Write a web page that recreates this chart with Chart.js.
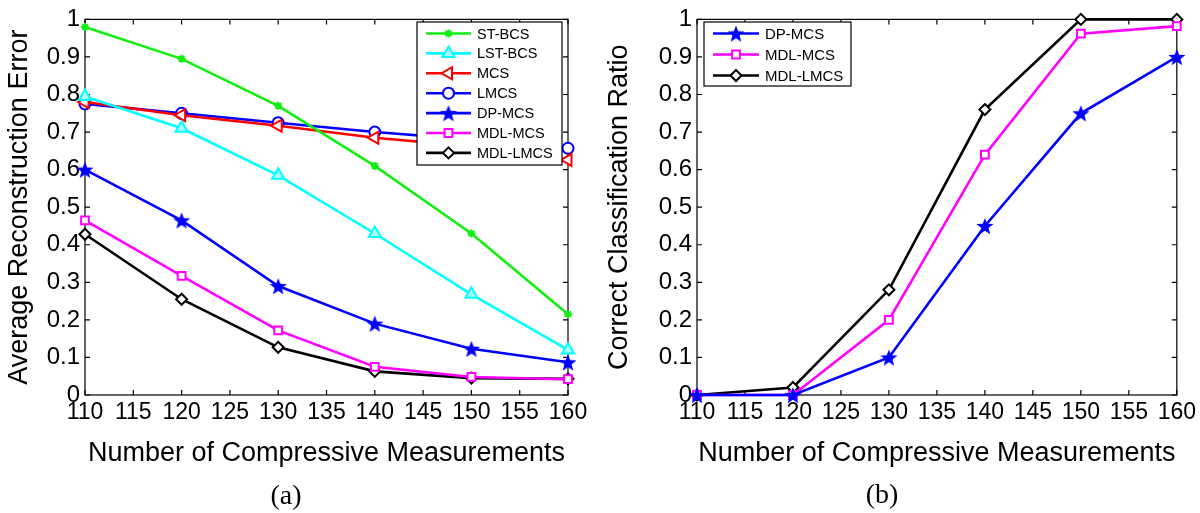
<!DOCTYPE html>
<html><head><meta charset="utf-8">
<script src="https://cdn.jsdelivr.net/npm/chart.js@4.4.0/dist/chart.umd.min.js"></script>
<style>
html,body{margin:0;padding:0;background:#fff;}
#wrap{position:relative;width:1200px;height:513px;overflow:hidden;background:#fff;}
.pane{position:absolute;top:0;width:600px;height:513px;}
.cap{position:absolute;font-family:"Liberation Serif","Times New Roman",serif;font-size:28px;color:#000;transform:translate(-50%,-50%);white-space:nowrap;}
</style></head><body>
<div id="wrap">
<div class="pane" style="left:0"><canvas id="c1" width="600" height="513"></canvas></div>
<div class="pane" style="left:600px"><canvas id="c2" width="600" height="513"></canvas></div>
<div class="cap" style="left:286px;top:495px">(a)</div>
<div class="cap" style="left:882px;top:494px">(b)</div>
</div>
<script>
// ---- data ----
const measurements = [110, 120, 130, 140, 150, 160];
const stBcs    = [0.980, 0.895, 0.770, 0.610, 0.430, 0.215];
const lstBcs   = [0.795, 0.710, 0.585, 0.430, 0.268, 0.120];
const mcs      = [0.780, 0.745, 0.717, 0.685, 0.662, 0.626];
const lmcs     = [0.775, 0.750, 0.725, 0.700, 0.680, 0.657];
const dpMcsErr = [0.600, 0.465, 0.290, 0.190, 0.123, 0.087];
const mdlMcsErr  = [0.465, 0.317, 0.172, 0.075, 0.048, 0.042];
const mdlLmcsErr = [0.428, 0.255, 0.127, 0.063, 0.045, 0.043];

const dpMcsRatio   = [0, 0, 0.10, 0.45, 0.75, 0.90];
const mdlMcsRatio  = [0, 0, 0.20, 0.64, 0.962, 0.982];
const mdlLmcsRatio = [0, 0.02, 0.28, 0.76, 1.0, 1.0];

const leftTitle = 'Average Reconstruction Error';
const rightTitle = 'Correct Classification Ratio';
const xTitle = 'Number of Compressive Measurements';

// ---- helpers ----
const FONT = '"Liberation Sans", Arial, Helvetica, sans-serif';
function pts(ys){ return measurements.map((x,i)=>({x:x, y:ys[i]})); }

function makeStar(color, size){
  const c = document.createElement('canvas');
  c.width = size; c.height = size;
  const g = c.getContext('2d');
  const cx = size/2, cy = size/2 + size*0.05, R = size/2, r = R*0.42;
  g.beginPath();
  for (let i=0;i<10;i++){
    const a = -Math.PI/2 + i*Math.PI/5;
    const rr = i%2===0 ? R : r;
    g.lineTo(cx + rr*Math.cos(a), cy + rr*Math.sin(a));
  }
  g.closePath();
  g.fillStyle = color; g.fill();
  return c;
}
const starImg = makeStar('#0000ff', 18);

const styles = {
  'ST-BCS':   {color:'#11ee11', pointStyle:'star', radius:4, rotation:0, fill:'#11ee11', bw:2},
  'LST-BCS':  {color:'#00ffff', pointStyle:'triangle', radius:7, rotation:0, fill:'#aaffff', bw:2},
  'MCS':      {color:'#ff0000', pointStyle:'triangle', radius:7, rotation:-90, fill:'#ffffff', bw:2},
  'LMCS':     {color:'#0000ff', pointStyle:'circle', radius:5.5, rotation:0, fill:'#ffffff', bw:2},
  'DP-MCS':   {color:'#0000ff', pointStyle:starImg, radius:8, rotation:0, fill:'#0000ff', bw:0},
  'MDL-MCS':  {color:'#ff00ff', pointStyle:'rect', radius:5.5, rotation:0, fill:'#ffffff', bw:2},
  'MDL-LMCS': {color:'#000000', pointStyle:'rectRot', radius:5.5, rotation:0, fill:'#ffffff', bw:2}
};

function ds(label, ys){
  const s = styles[label];
  return {
    label: label, data: pts(ys),
    borderColor: s.color, backgroundColor: s.fill, borderWidth: 2.6,
    pointStyle: s.pointStyle, pointRadius: s.radius, pointRotation: s.rotation,
    pointBorderColor: s.color, pointBackgroundColor: s.fill, pointBorderWidth: s.bw,
    pointHoverRadius: s.radius, tension: 0, clip: false
  };
}

const framePlugin = {
  id: 'frame',
  beforeDatasetsDraw(chart){
    const ctx = chart.ctx, a = chart.chartArea;
    ctx.save();
    ctx.strokeStyle = '#000'; ctx.lineWidth = 1.2;
    ctx.strokeRect(a.left, a.top, a.right - a.left, a.bottom - a.top);
    const xs = chart.scales.x, ys = chart.scales.y, tl = 5;
    ctx.beginPath();
    xs.ticks.forEach(t => {
      const p = xs.getPixelForValue(t.value);
      ctx.moveTo(p, a.bottom); ctx.lineTo(p, a.bottom - tl);
      ctx.moveTo(p, a.top); ctx.lineTo(p, a.top + tl);
    });
    ys.ticks.forEach(t => {
      const p = ys.getPixelForValue(t.value);
      ctx.moveTo(a.left, p); ctx.lineTo(a.left + tl, p);
      ctx.moveTo(a.right, p); ctx.lineTo(a.right - tl, p);
    });
    ctx.stroke();
    ctx.restore();
  },
  afterDraw(chart){
    const o = chart.options.plugins.boxLegend;
    if (!o) return;
    const ctx = chart.ctx;
    ctx.save();
    ctx.fillStyle = '#fff';
    ctx.fillRect(o.x, o.y, o.w, o.h);
    ctx.strokeStyle = '#000'; ctx.lineWidth = 1.2;
    ctx.strokeRect(o.x, o.y, o.w, o.h);
    chart.data.datasets.forEach((d, i) => {
      const cy = o.firstY + i*o.step;
      ctx.strokeStyle = d.borderColor; ctx.lineWidth = 2.6;
      ctx.beginPath(); ctx.moveTo(o.lineX0, cy); ctx.lineTo(o.lineX1, cy); ctx.stroke();
      ctx.fillStyle = d.pointBackgroundColor; ctx.strokeStyle = d.pointBorderColor;
      ctx.lineWidth = d.pointBorderWidth;
      Chart.helpers.drawPoint(ctx, {pointStyle: d.pointStyle, rotation: d.pointRotation,
        radius: d.pointRadius, borderWidth: d.pointBorderWidth}, (o.lineX0+o.lineX1)/2, cy);
      ctx.fillStyle = '#000';
      ctx.font = o.fontSize + 'px ' + FONT;
      ctx.textBaseline = 'middle'; ctx.textAlign = 'left';
      ctx.fillText(d.label, o.textX, cy + 1);
    });
    ctx.restore();
  }
};

function yTick(v){
  if (Math.abs(v) < 1e-9) return '0';
  if (Math.abs(v-1) < 1e-9) return '1';
  return v.toFixed(1);
}

function makeChart(id, datasets, yTitleText, yw, padRight, legend){
  return new Chart(document.getElementById(id), {
    type: 'line',
    data: { datasets: datasets },
    plugins: [framePlugin],
    options: {
      responsive: false, animation: false, devicePixelRatio: 1,
      layout: { padding: { left: 0, right: padRight, top: 14, bottom: 38 } },
      plugins: { legend: { display: false }, tooltip: { enabled: false }, boxLegend: legend },
      scales: {
        x: {
          type: 'linear', min: 110, max: 160,
          ticks: { stepSize: 5, color: '#000', padding: 4, maxRotation: 0, autoSkip: false,
                   font: { family: FONT, size: 23 } },
          grid: { display: false, drawTicks: false },
          border: { display: false },
          title: { display: true, text: xTitle, color: '#000',
                   font: { family: FONT, size: 27 }, padding: { top: 0, bottom: 5 } },
          afterFit(s){ s.height = 80; }
        },
        y: {
          type: 'linear', min: 0, max: 1,
          ticks: { stepSize: 0.1, color: '#000', padding: 5, callback: yTick,
                   font: { family: FONT, size: 24 } },
          grid: { display: false, drawTicks: false },
          border: { display: false },
          title: { display: true, text: yTitleText, color: '#000',
                   font: { family: FONT, size: 27 }, padding: { top: 3, bottom: 0 } },
          afterFit(s){ s.width = yw; }
        }
      }
    }
  });
}

makeChart('c1', [
  ds('ST-BCS', stBcs), ds('LST-BCS', lstBcs), ds('MCS', mcs), ds('LMCS', lmcs),
  ds('DP-MCS', dpMcsErr), ds('MDL-MCS', mdlMcsErr), ds('MDL-LMCS', mdlLmcsErr)
], leftTitle, 85, 32,
  { x: 417, y: 22, w: 145, h: 143, firstY: 33.5, step: 19.9, lineX0: 426, lineX1: 471, textX: 477, fontSize: 14.5 });

makeChart('c2', [
  ds('DP-MCS', dpMcsRatio), ds('MDL-MCS', mdlMcsRatio), ds('MDL-LMCS', mdlLmcsRatio)
], rightTitle, 97, 19,
  { x: 104, y: 22, w: 147, h: 64, firstY: 33.5, step: 21, lineX0: 113, lineX1: 159, textX: 165, fontSize: 15 });
</script>
</body></html>
